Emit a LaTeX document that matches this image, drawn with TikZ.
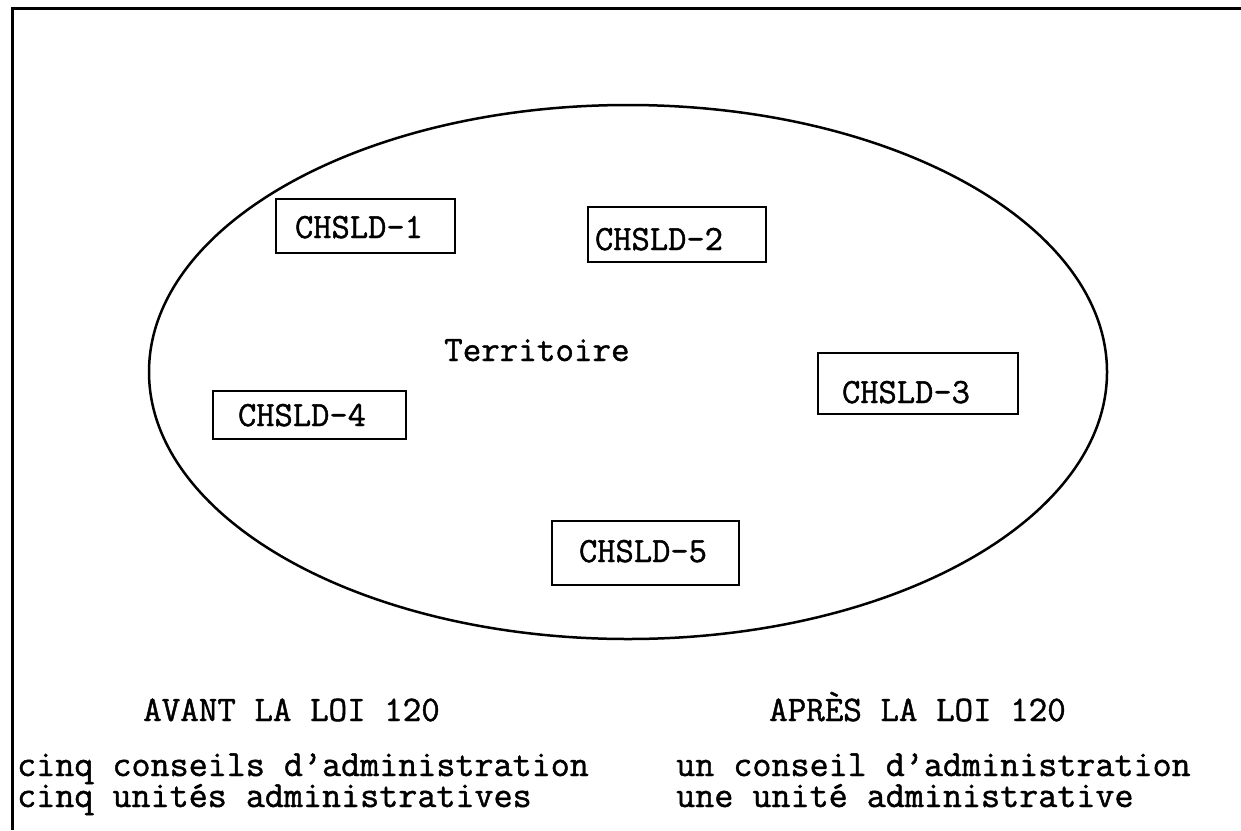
\documentclass[tikz,border=0pt]{standalone}
\usepackage{fontspec}
\newfontfamily\typed[FakeBold=1.2]{Latin Modern Mono}
\begin{document}
\begin{tikzpicture}[x=1pt,y=-1pt,
  frameline/.style={line width=3pt},
  zone/.style={line width=2.5pt},
  unitbox/.style={draw, line width=2pt, rectangle, anchor=north west,
    inner ysep=0pt, align=left,
    font=\typed\fontsize{35.5}{35.5}\selectfont},
  plain/.style={anchor=base west, inner sep=0pt,
    font=\typed\fontsize{36}{36}\selectfont},
  listline/.style={anchor=base west, inner sep=0pt,
    font=\typed\fontsize{37}{37}\selectfont}]
\useasboundingbox (0,0) rectangle (1241,830);

% page frame: top and left rules
\draw[frameline] (1241,8) -- (12,8) -- (12,830);

% the territory
\draw[zone] (628,372) ellipse [x radius=479, y radius=267];
\node[plain] (terr) at (444,361) {Territoire};

% the five establishments (pad = text inset, height/depth around the baseline)
\node[unitbox, inner xsep=19pt, text width=141pt, text height=39pt, text depth=15pt]
  (c1) at (275,198) {CHSLD-1};
\node[unitbox, inner xsep=7pt, text width=164pt, text height=43pt, text depth=12pt]
  (c2) at (587,206) {CHSLD-2};
\node[unitbox, inner xsep=24pt, text width=152pt, text height=50pt, text depth=11pt]
  (c3) at (817,352) {CHSLD-3};
\node[unitbox, inner xsep=25pt, text width=143pt, text height=35pt, text depth=13pt]
  (c4) at (212,390) {CHSLD-4};
\node[unitbox, inner xsep=27pt, text width=133pt, text height=41pt, text depth=23pt]
  (c5) at (551,520) {CHSLD-5};

% before / after captions
\node[plain] (avant) at (143,721) {AVANT LA LOI 120};
\node[plain] (apres) at (769,721) {APRÈS LA LOI 120};
\node[listline] (avant1) at (17,776) {cinq conseils d’administration};
\node[listline] (avant2) at (17,807) {cinq unités administratives};
\node[listline] (apres1) at (676,776) {un conseil d’administration};
\node[listline] (apres2) at (676,807) {une unité administrative};
\end{tikzpicture}
\end{document}
